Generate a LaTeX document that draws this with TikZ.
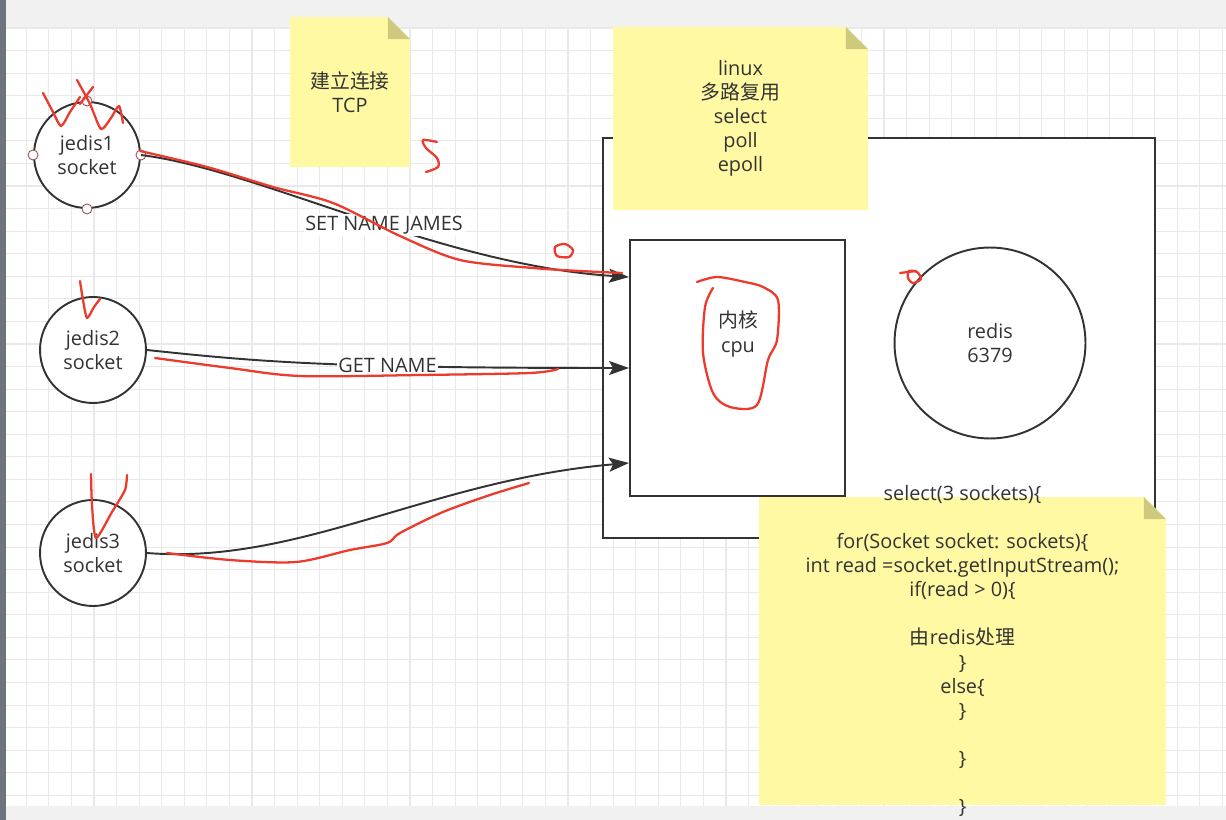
\documentclass[tikz,border=0pt]{standalone}
\usepackage{fontspec}
\setmainfont{Open Sans}
\newfontfamily\cjk{Noto Sans CJK SC}
\usetikzlibrary{arrows.meta, positioning, calc}

\definecolor{ink}{HTML}{333333}
\definecolor{notefill}{RGB}{255,249,163}
\definecolor{notefold}{RGB}{207,201,126}
\definecolor{pen}{RGB}{236,58,44}
\definecolor{gridline}{HTML}{E9E9E9}
\definecolor{barfill}{HTML}{F1F1F1}
\definecolor{sidebar}{HTML}{6E747B}

\tikzset{
  note/.style={rectangle, inner sep=0pt, align=center, path picture={
      \fill[notefill] (path picture bounding box.south west) -- (path picture bounding box.north west)
        -- ([xshift=-0.44cm]path picture bounding box.north east)
        -- ([yshift=-0.44cm]path picture bounding box.north east)
        -- (path picture bounding box.south east) -- cycle;
      \fill[notefold] ([xshift=-0.44cm]path picture bounding box.north east)
        -- ([shift={(-0.44cm,-0.44cm)}]path picture bounding box.north east)
        -- ([yshift=-0.44cm]path picture bounding box.north east) -- cycle;
    }},
  redpen/.style={draw=pen, line width=1.3pt, line cap=round, line join=round}
}

\begin{document}
\begin{tikzpicture}[x=0.02cm, y=-0.02cm,
    every node/.style={font=\fontsize{11.3}{13.7}\selectfont, text=ink, align=center},
    sock/.style={circle, draw=ink, line width=1.1pt, fill=white, minimum size=2.12cm, inner sep=0pt},
    box/.style={rectangle, draw=ink, line width=1.1pt, fill=white, inner sep=0pt},
    handle/.style={circle, draw={rgb,255:red,150;green,80;blue,80}, fill=white, line width=0.5pt, minimum size=0.2cm, inner sep=0pt},
    arrow/.style={-{Stealth[length=0.4cm, width=0.28cm, inset=0.08cm]}, draw=ink, line width=1.1pt},
    lbl/.style={fill=white, inner sep=1pt}
  ]
  \useasboundingbox (0,0) rectangle (1226,820);

  % canvas and grid
  \fill[white] (0,0) rectangle (1226,820);
  \draw[gridline, line width=0.6pt]
    \foreach \k [evaluate=\k as \gx using 26.3+22.57*\k] in {0,...,53} {(\gx,27) -- (\gx,806)}
    \foreach \k [evaluate=\k as \gy using 28+22.57*\k] in {0,...,34} {(6,\gy) -- (1226,\gy)};
  \fill[barfill] (0,0) rectangle (1226,27);
  \fill[barfill] (0,806) rectangle (1226,820);
  \fill[sidebar] (0,0) rectangle (6,820);

  % server side
  \node[box, minimum width=11.04cm, minimum height=8cm] (host) at (879,338) {};
  \node[box, minimum width=4.3cm, minimum height=5.12cm] (cpu) at (737.5,368) {};
  \node (cputext) at (738,334) {{\cjk 内核}\\cpu};
  \node[sock, minimum size=3.82cm] (redis) at (990,343) {redis\\6379};

  % notes
  \node[note, minimum width=2.4cm, minimum height=3cm] (tcp) at (350,92) {{\cjk 建立连接}\\TCP};
  \node[note, minimum width=5.1cm, minimum height=3.66cm] (mux) at (740.5,118.5) {linux\\{\cjk 多路复用}\\select\\poll\\epoll};
  \node[note, minimum width=8.14cm, minimum height=6.16cm] (code) at (962.5,651) {};
  \node (codetext) at (code) {select(3 sockets)\{\\\mbox{}\\for(Socket socket: sockets)\{\\int read =socket.getInputStream();\\if(read > 0)\{\\\mbox{}\\{\cjk 由}redis{\cjk 处理}\\\}\\else\{\\\}\\\mbox{}\\\}\\\mbox{}\\\}};

  % clients
  \node[sock] (j1) at (87,155) {jedis1\\socket};
  \node[sock] (j2) at (93,350) {jedis2\\socket};
  \node[sock] (j3) at (93,553) {jedis3\\socket};
  \foreach \a in {north,west,east,south}
    \node[handle] (h\a) at (j1.\a) {};

  \draw[arrow] (j1.east) .. controls (260,170) and (440,265) .. ([yshift=1.82cm]cpu.west)
    node[lbl, pos=0.55] (setlbl) {SET NAME JAMES};
  \draw[arrow] (j2.east) .. controls (260,362) and (330,368) .. (cpu.west)
    node[lbl, pos=0.65] (getlbl) {GET NAME};
  \draw[arrow] (j3.east) .. controls (300,565) and (430,480) .. ([yshift=-1.9cm]cpu.west);

  % pen marks
  \draw[redpen] plot[smooth, tension=0.4] coordinates {(43,93) (52,110) (61,126) (70,112) (80,97)};
  \draw[redpen] plot[smooth, tension=0.4] coordinates {(77,80) (90,104) (101,129) (111,118) (119,106) (123,123)};
  \draw[redpen] (93,87) -- (80,104);
  \draw[redpen] plot[smooth, tension=0.5] coordinates {(437,142) (423,140) (426,148) (437,158) (438,167) (426,172)};
  \draw[redpen] plot[smooth, tension=0.5] coordinates {(140,151) (207,167) (273,187) (333,203) (400,236) (460,260) (533,268) (580,271) (622,273)};
  \draw[redpen] plot[smooth cycle] coordinates {(555,247) (565,244) (573,250) (569,257) (557,256)};
  \draw[redpen] plot[smooth, tension=0.4] coordinates {(80,281) (83,300) (87,318) (94,307) (100,299)};
  \draw[redpen] plot[smooth, tension=0.5] coordinates {(155,358) (230,368) (300,376) (420,375) (530,373) (558,369)};
  \draw[redpen] plot[smooth, tension=0.4] coordinates {(91,474) (92,505) (96,538) (112,512) (125,490) (127,475)};
  \draw[redpen] plot[smooth, tension=0.5] coordinates {(167,553) (230,560) (296,562) (350,550) (387,543) (400,533) (443,512) (490,495) (529,483)};
  \draw[redpen] plot[smooth, tension=0.5] coordinates {(697,282) (717,277) (745,282) (763,287) (778,300) (777,340) (768,360) (757,405) (730,407) (713,393) (703,353) (705,307) (713,288)};
  \draw[redpen] (900,273) -- (916,271);
  \draw[redpen] plot[smooth cycle] coordinates {(909,271) (917,272) (921,279) (913,283) (908,278)};
\end{tikzpicture}
\end{document}
